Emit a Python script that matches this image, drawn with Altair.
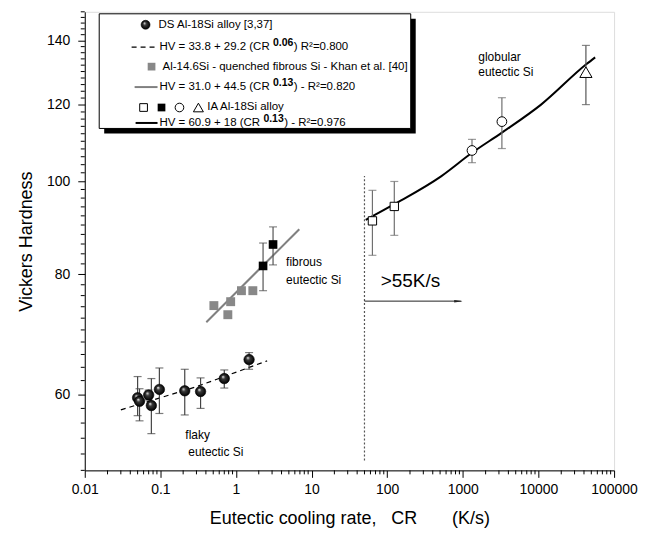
import altair as alt
import pandas as pd

# ---------------- data ----------------
# DS Al-18Si alloy [3,37]  (black spheres)
ds_cr = [0.050, 0.053, 0.070, 0.076, 0.097, 0.21, 0.34, 0.70, 1.49]
ds_hv = [59.5, 59.0, 59.9, 58.4, 60.7, 60.5, 60.4, 62.3, 65.2]
ds_lo = [57.0, 56.3, 59.2, 54.6, 57.3, 57.1, 58.0, 60.9, 63.7]
ds_hi = [62.6, 60.8, 60.6, 62.3, 63.9, 63.7, 62.4, 63.6, 66.3]

# Al-14.6Si quenched fibrous Si - Khan et al. [40] (grey squares)
khan_cr = [0.51, 0.85, 0.78, 1.18, 1.67]
khan_hv = [74.2, 74.9, 72.6, 76.9, 76.9]

# IA Al-18Si alloy
ia_bsq_cr = [2.28, 3.09]
ia_bsq_hv = [81.6, 85.9]
ia_bsq_lo = [76.9, 81.8]
ia_bsq_hi = [86.2, 89.6]

ia_osq_cr = [63.7, 124]
ia_osq_hv = [90.9, 94.1]
ia_osq_lo = [83.7, 87.8]
ia_osq_hi = [97.8, 99.9]

ia_cir_cr = [1321, 3283]
ia_cir_hv = [107.6, 115.3]
ia_cir_lo = [104.5, 108.1]
ia_cir_hi = [110.5, 122.1]

ia_tri_cr = [42400]
ia_tri_hv = [129.8]
ia_tri_lo = [120.1]
ia_tri_hi = [138.4]

# fitted lines
fit_ds_cr = [0.030, 0.30, 2.58]
fit_ds_hv = [57.8, 61.1, 65.0]
fit_khan_cr = [0.405, 6.87]
fit_khan_hv = [71.3, 89.1]
fit_ia_cr = [51.9, 124, 521, 1321, 3283, 10820, 42400, 56200]
fit_ia_hv = [91.1, 94.6, 101.2, 107.0, 112.3, 120.1, 132.2, 134.5]

# 55 K/s marker and arrow
limit_cr = [50, 50]
limit_hv = [51.2, 101.2]
arrow_cr = [50, 955]
arrow_hv = [75.0, 75.0]

# annotations
note_txt = ["flaky", "eutectic Si", "fibrous", "eutectic Si", "globular", "eutectic Si"]
note_cr = [0.214, 0.234, 4.6, 4.6, 1600, 1600]
note_hv = [54.4, 52.2, 82.4, 78.9, 134.7, 129.7]
big_txt = [">55K/s"]
big_cr = [82]
big_hv = [78.7]

# axes ticks
x_major = [0.01, 0.1, 1, 10, 100, 1000, 10000, 100000]
x_minor_mult = [2, 3, 4, 5, 6, 7, 8, 9]
y_major = [60, 80, 100, 120, 140]
y_minor = [v for v in range(50, 151, 2) if v not in y_major]

# ---------------- chart ----------------
W, H = 531, 460
FONT = "Liberation Sans"
xs = alt.Scale(type="log", domain=[0.01, 100000], nice=False)
ys = alt.Scale(type="log", domain=[50, 150], nice=False)

axis_common = dict(grid=False, tickColor="black", domainColor="black", labelColor="black",
                   titleColor="black", labelFont=FONT, titleFont=FONT, labelFontSize=14,
                   titleFontSize=18, titleFontWeight="normal", tickSize=7, tickWidth=1,
                   domainWidth=1, labelOverlap=False, labelFlush=False)

xaxis = alt.Axis(values=x_major, format="~g",
                 title="Eutectic cooling rate,\u00a0\u00a0\u00a0CR\u00a0\u00a0\u00a0\u00a0\u00a0\u00a0\u00a0(K/s)",
                 labelPadding=5, titlePadding=13, **axis_common)
yaxis = alt.Axis(values=y_major, format="d", title="Vickers Hardness",
                 labelPadding=8, titlePadding=11, **axis_common)


def X(f):
    return alt.X(f, type="quantitative", scale=xs, axis=xaxis)


def Y(f):
    return alt.Y(f, type="quantitative", scale=ys, axis=yaxis)


def pts(cr, hv, lo=None, hi=None):
    d = {"cr": cr, "hv": hv}
    if lo is not None:
        d["lo"] = lo
        d["hi"] = hi
    return pd.DataFrame(d)


def errbars(df, color):
    bar = alt.Chart(df).mark_rule(color=color, strokeWidth=1.2).encode(
        x=X("cr"), y=Y("lo"), y2="hi")
    c1 = alt.Chart(df).mark_tick(orient="horizontal", size=8, thickness=1.2, color=color).encode(
        x=X("cr"), y=Y("lo"))
    c2 = alt.Chart(df).mark_tick(orient="horizontal", size=8, thickness=1.2, color=color).encode(
        x=X("cr"), y=Y("hi"))
    return [bar, c1, c2]


sphere = alt.RadialGradient(
    gradient="radial",
    stops=[alt.GradientStop(color="#ffffff", offset=0),
           alt.GradientStop(color="#3a3a3a", offset=0.35),
           alt.GradientStop(color="#000000", offset=1)],
    x1=0.36, y1=0.32, r1=0, x2=0.5, y2=0.5, r2=0.5)

df_ds = pts(ds_cr, ds_hv, ds_lo, ds_hi)
df_khan = pts(khan_cr, khan_hv)
df_bsq = pts(ia_bsq_cr, ia_bsq_hv, ia_bsq_lo, ia_bsq_hi)
df_osq = pts(ia_osq_cr, ia_osq_hv, ia_osq_lo, ia_osq_hi)
df_cir = pts(ia_cir_cr, ia_cir_hv, ia_cir_lo, ia_cir_hi)
df_tri = pts(ia_tri_cr, ia_tri_hv, ia_tri_lo, ia_tri_hi)

layers = []

# fit lines
layers.append(alt.Chart(pts(fit_ds_cr, fit_ds_hv)).mark_line(
    color="black", strokeWidth=1.2, strokeDash=[5, 4]).encode(x=X("cr"), y=Y("hv")))
layers.append(alt.Chart(pts(fit_khan_cr, fit_khan_hv)).mark_line(
    color="#808080", strokeWidth=2).encode(x=X("cr"), y=Y("hv")))
layers.append(alt.Chart(pts(fit_ia_cr, fit_ia_hv)).mark_line(
    color="black", strokeWidth=2, interpolate="monotone").encode(x=X("cr"), y=Y("hv")))

# minor ticks
xmin = [d * m for d in x_major[:-1] for m in x_minor_mult]
layers.append(alt.Chart(pd.DataFrame({"cr": xmin})).mark_rule(color="black").encode(
    x=X("cr"), y=alt.value(H), y2=alt.value(H + 4)))
layers.append(alt.Chart(pd.DataFrame({"hv": y_minor})).mark_rule(color="black").encode(
    y=Y("hv"), x=alt.value(0), x2=alt.value(-4)))

# limit line & arrow
layers.append(alt.Chart(pts(limit_cr, limit_hv)).mark_line(
    color="#555555", strokeWidth=1.2, strokeDash=[2, 2]).encode(x=X("cr"), y=Y("hv")))
layers.append(alt.Chart(pts(arrow_cr, arrow_hv)).mark_line(
    color="#222222", strokeWidth=1).encode(x=X("cr"), y=Y("hv")))
layers.append(alt.Chart(pts(arrow_cr[1:], arrow_hv[1:])).mark_point(
    shape="M-1,-0.3L1,0L-1,0.3Z", filled=True, color="#222222", size=70, opacity=1,
    xOffset=-3).encode(x=X("cr"), y=Y("hv")))

# error bars
layers += errbars(df_ds, "#444444")
layers += errbars(df_bsq, "#555555")
layers += errbars(df_osq, "#707070")
layers += errbars(df_cir, "#707070")
layers += errbars(df_tri, "#555555")

# markers
layers.append(alt.Chart(df_khan).mark_point(shape="square", filled=True, color="#888888",
                                            size=80, opacity=1).encode(x=X("cr"), y=Y("hv")))
layers.append(alt.Chart(df_ds).mark_point(shape="circle", filled=True, fill=sphere, stroke="black",
                                          strokeWidth=0.6, size=110, opacity=1).encode(x=X("cr"), y=Y("hv")))
layers.append(alt.Chart(df_bsq).mark_point(shape="square", filled=True, color="black",
                                           size=75, opacity=1).encode(x=X("cr"), y=Y("hv")))
layers.append(alt.Chart(df_osq).mark_point(shape="square", filled=True, fill="white", stroke="black",
                                           strokeWidth=1, size=70, opacity=1).encode(x=X("cr"), y=Y("hv")))
layers.append(alt.Chart(df_cir).mark_point(shape="circle", filled=True, fill="white", stroke="black",
                                           strokeWidth=1, size=95, opacity=1).encode(x=X("cr"), y=Y("hv")))
layers.append(alt.Chart(df_tri).mark_point(shape="triangle-up", filled=True, fill="white", stroke="black",
                                           strokeWidth=1, size=150, opacity=1).encode(x=X("cr"), y=Y("hv")))

# annotations
layers.append(alt.Chart(pd.DataFrame({"t": note_txt, "cr": note_cr, "hv": note_hv})).mark_text(
    align="left", baseline="middle", font=FONT, fontSize=12, color="black").encode(
    x=X("cr"), y=Y("hv"), text="t:N"))
layers.append(alt.Chart(pd.DataFrame({"t": big_txt, "cr": big_cr, "hv": big_hv})).mark_text(
    align="left", baseline="middle", font=FONT, fontSize=19, color="black").encode(
    x=X("cr"), y=Y("hv"), text="t:N"))

# ---------------- legend box (layout in pixels) ----------------
one = pd.DataFrame({"a": [0]})
BX0, BX1, BY0, BY1, SH = 14.5, 327, 2, 117, 5
layers.append(alt.Chart(one).mark_rect(color="black").encode(
    x=alt.value(BX0 + SH), x2=alt.value(BX1 + SH), y=alt.value(BY0 + SH), y2=alt.value(BY1 + SH)))
layers.append(alt.Chart(one).mark_rect(fill="white", stroke="black", strokeWidth=1).encode(
    x=alt.value(BX0), x2=alt.value(BX1), y=alt.value(BY0), y2=alt.value(BY1)))

EM = {" ": .278, "H": .722, "V": .667, "=": .584, "+": .584, ".": .278, "(": .333, ")": .333,
      "C": .722, "R": .722, "-": .333, "\u00b2": .333}
LFS = 11.5


def tw(s, size):
    return sum(EM.get(ch, .556) for ch in s) * size


def txt(s, x, y, size=LFS, weight="normal", dy=0):
    return alt.Chart(one).mark_text(align="left", baseline="middle", font=FONT, fontSize=size,
                                    fontWeight=weight, color="black", dy=dy).encode(
        x=alt.value(x), y=alt.value(y), text=alt.value(s))


def formula(a, b, c, x, y):
    out = [txt(a, x, y)]
    x2 = x + tw(a, LFS)
    out.append(txt(b, x2, y, size=10.5, weight="bold", dy=-4))
    x3 = x2 + tw(b, 10.5) + 0.5
    out.append(txt(c, x3, y))
    return out


def lg_line(x0, x1, y, color, width, dash=None):
    kw = dict(color=color, strokeWidth=width)
    if dash:
        kw["strokeDash"] = dash
    return alt.Chart(one).mark_rule(**kw).encode(x=alt.value(x0), x2=alt.value(x1), y=alt.value(y))


def lg_sym(x, y, **kw):
    return alt.Chart(one).mark_point(opacity=1, **kw).encode(x=alt.value(x), y=alt.value(y))


R = [13, 35.5, 55, 75.5, 96, 111.5]
layers.append(lg_sym(61, R[0], shape="circle", filled=True, fill=sphere, stroke="black",
                     strokeWidth=0.6, size=80))
layers.append(txt("DS Al-18Si alloy [3,37]", 74, R[0]))
layers.append(lg_line(47, 72, R[1], "black", 1.2, [5, 4]))
layers += formula("HV = 33.8 + 29.2 (CR ", "0.06", ") R\u00b2=0.800", 75, R[1])
layers.append(lg_sym(67, R[2], shape="square", filled=True, color="#888888", size=60))
layers.append(txt("Al-14.6Si - quenched fibrous Si - Khan et al. [40]", 78, R[2]))
layers.append(lg_line(50, 73, R[3], "#808080", 2))
layers += formula("HV = 31.0 + 44.5 (CR ", "0.13", ") - R\u00b2=0.820", 75, R[3])
layers.append(lg_sym(59, R[4], shape="square", filled=True, fill="white", stroke="black",
                     strokeWidth=1, size=60))
layers.append(lg_sym(77, R[4], shape="square", filled=True, color="black", size=60))
layers.append(lg_sym(95, R[4], shape="circle", filled=True, fill="white", stroke="black",
                     strokeWidth=1, size=75))
layers.append(lg_sym(114, R[4], shape="triangle-up", filled=True, fill="white", stroke="black",
                     strokeWidth=1, size=100))
layers.append(txt("IA Al-18Si alloy", 123, R[4]))
layers.append(lg_line(51, 73, R[5], "black", 2))
layers += formula("HV = 60.9 + 18 (CR ", "0.13", ") - R\u00b2=0.976", 75, R[5])

chart = alt.layer(*layers).properties(
    width=W, height=H, padding={"left": 9, "top": 2, "right": 5, "bottom": 2}
).configure_view(stroke="black", strokeWidth=1).configure(background="white")

chart.save("out.html", embed_options={"renderer": "svg", "actions": False})
